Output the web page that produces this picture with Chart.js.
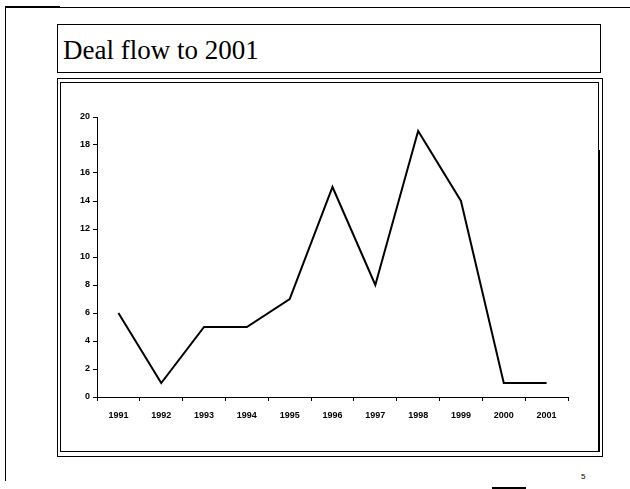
<!DOCTYPE html>
<html>
<head>
<meta charset="utf-8">
<script src="https://cdn.jsdelivr.net/npm/chart.js@4/dist/chart.umd.min.js"></script>
<style>
	body { margin: 0; background: #fff; }
	#pagina { position: relative; width: 630px; height: 489px; overflow: hidden; background: #fff; }
	.linea { position: absolute; background: #000; }
	#titulo {
		position: absolute; left: 57px; top: 24px; width: 544px; height: 49px;
		border: 1px solid #000; box-sizing: border-box;
		font-family: "Liberation Serif", "DejaVu Serif", serif; font-size: 27px;
		padding: 10px 0 0 5px; color: #000;
	}
	#marco { position: absolute; left: 57px; top: 78px; width: 546px; height: 379px; border: 1px solid #000; box-sizing: border-box; }
	#interior { position: absolute; left: 60px; top: 82px; width: 539px; height: 370px; border: 1px solid #000; box-sizing: border-box; }
	#lateral { position: absolute; left: 598px; top: 150px; width: 2px; height: 302px; background: #000; }
	#lienzo { position: absolute; left: 62px; top: 84px; width: 535px; height: 366px; }
	#num { position: absolute; left: 581px; top: 472px; font-family: "Liberation Sans", Arial, sans-serif; font-size: 8px; color: #000; }
</style>
</head>
<body>
<div id="pagina">
	<div class="linea" style="left:5px; top:7px; width:625px; height:1px;"></div>
	<div class="linea" style="left:5px; top:6px; width:55px; height:2px;"></div>
	<div class="linea" style="left:5px; top:7px; width:1px; height:474px;"></div>
	<div class="linea" style="left:492px; top:487px; width:34px; height:2px;"></div>
	<div id="titulo">Deal flow to 2001</div>
	<div id="marco"></div>
	<div id="interior"></div>
	<div id="lateral"></div>
	<div id="lienzo"><canvas id="grafico"></canvas></div>
	<div id="num">5</div>
</div>
<script>
/* Datos del gráfico */
const anios = ["1991", "1992", "1993", "1994", "1995", "1996", "1997", "1998", "1999", "2000", "2001"];
const operaciones = [6, 1, 5, 5, 7, 15, 8, 19, 14, 1, 1];

const fuenteEje = { family: "Liberation Sans, Arial, sans-serif", size: 9, weight: "bold" };

const plotRef = document.getElementById("grafico");
let config = {
	type: "line",
	data: {
		labels: anios,
		datasets: [
			{
				label: "Deal flow",
				data: operaciones,
				borderColor: "#000",
				borderWidth: 2,
				pointRadius: 0,
				tension: 0,
			},
		],
	},
	options: {
		responsive: true,
		maintainAspectRatio: false,
		animation: false,
		layout: { padding: { top: 33, right: 29, bottom: 0, left: 0 } },
		plugins: { legend: { display: false }, tooltip: { enabled: false } },
		scales: {
			x: {
				offset: true,
				grid: { offset: true, drawOnChartArea: false, drawTicks: true, tickLength: 4, color: "#000" },
				border: { color: "#000", width: 1 },
				ticks: { color: "#000", font: fuenteEje, maxRotation: 0, autoSkip: false, padding: 9 },
				afterFit: (scale) => { scale.height = 53; },
			},
			y: {
				min: 0,
				max: 20,
				grid: { drawOnChartArea: false, drawTicks: true, tickLength: 4, color: "#000" },
				border: { color: "#000", width: 1 },
				ticks: { stepSize: 2, color: "#000", font: fuenteEje, padding: 3 },
				afterFit: (scale) => { scale.width = 35; },
			},
		},
	},
};

//Instanciación del gráfico
let chart = new Chart(plotRef, config);
</script>
</body>
</html>
